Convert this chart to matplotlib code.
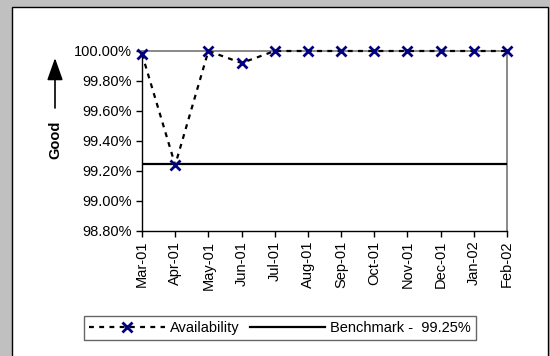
import matplotlib
matplotlib.use('Agg')
import matplotlib.pyplot as plt
from matplotlib.patches import Rectangle
from matplotlib.ticker import FuncFormatter

plt.rcParams['font.family'] = ['Liberation Sans', 'DejaVu Sans']

# data
months = ['Mar-01', 'Apr-01', 'May-01', 'Jun-01', 'Jul-01', 'Aug-01',
          'Sep-01', 'Oct-01', 'Nov-01', 'Dec-01', 'Jan-02', 'Feb-02']
availability = [99.98, 99.24, 100.0, 99.92, 100.0, 100.0,
                100.0, 100.0, 100.0, 100.0, 100.0, 100.0]
benchmark = 99.25
yticks = [98.8, 99.0, 99.2, 99.4, 99.6, 99.8, 100.0]

fig = plt.figure(figsize=(5.5, 3.56), dpi=100)
fig.patch.set_facecolor('#c0c0c0')

# white chart panel with black border
panel = Rectangle((12/550, -0.05), 536/550, 1 - 7/356 + 0.05,
                  transform=fig.transFigure, facecolor='white',
                  edgecolor='black', lw=1.0, zorder=-10)
fig.patches.append(panel)

ax = fig.add_axes([142/550, 1 - 231/356, 365/550, 180/356])
ax.set_facecolor('white')
ax.set_zorder(1)

x = list(range(len(months)))
ax.plot([x[0], x[-1]], [benchmark, benchmark], color='black', lw=1.6,
        label='Benchmark -  99.25%', zorder=3)
ax.plot(x, availability, color='black', lw=1.6, ls=(0, (2.2, 2.4)),
        marker='x', markersize=7.5, markeredgewidth=2,
        markeredgecolor='#000080', label='Availability', zorder=4,
        clip_on=False)

ax.set_xlim(0, len(months) - 1)
ax.set_ylim(98.8, 100.0)
ax.set_yticks(yticks)
ax.yaxis.set_major_formatter(FuncFormatter(lambda v, p: '%.2f%%' % v))
ax.set_xticks(x)
ax.set_xticklabels(months, rotation=90)
ax.tick_params(axis='both', direction='out', length=4, width=1,
               labelsize=10.5, colors='black')
ax.tick_params(axis='x', pad=3)

for s in ['top', 'right']:
    ax.spines[s].set_color('#808080')
    ax.spines[s].set_linewidth(1.3)
for s in ['left', 'bottom']:
    ax.spines[s].set_color('black')
    ax.spines[s].set_linewidth(1.0)

# "Good" label with upward arrow
fig.text(55/550, 1 - 140/356, 'Good', rotation=90, fontsize=10.5,
         fontweight='bold', ha='center', va='center')
ax.annotate('', xy=(55/550, 1 - 58/356), xytext=(55/550, 1 - 108/356),
            xycoords='figure fraction', textcoords='figure fraction',
            annotation_clip=False,
            arrowprops=dict(arrowstyle='-|>,head_length=0.62,head_width=0.22',
                            color='black', lw=1.2, mutation_scale=22,
                            shrinkA=0, shrinkB=0))

handles, labels = ax.get_legend_handles_labels()
leg = fig.legend(handles[::-1], labels[::-1],
                 loc='center', bbox_to_anchor=(280/550, 1 - 328/356),
                 ncol=2, fontsize=10.5, frameon=True, fancybox=False,
                 handlelength=5.2, columnspacing=0.7, handletextpad=0.35,
                 borderpad=0.35, borderaxespad=0)
leg.get_frame().set_edgecolor('#404040')
leg.get_frame().set_linewidth(1.0)

fig.savefig('out.png', dpi=100, facecolor=fig.get_facecolor())
